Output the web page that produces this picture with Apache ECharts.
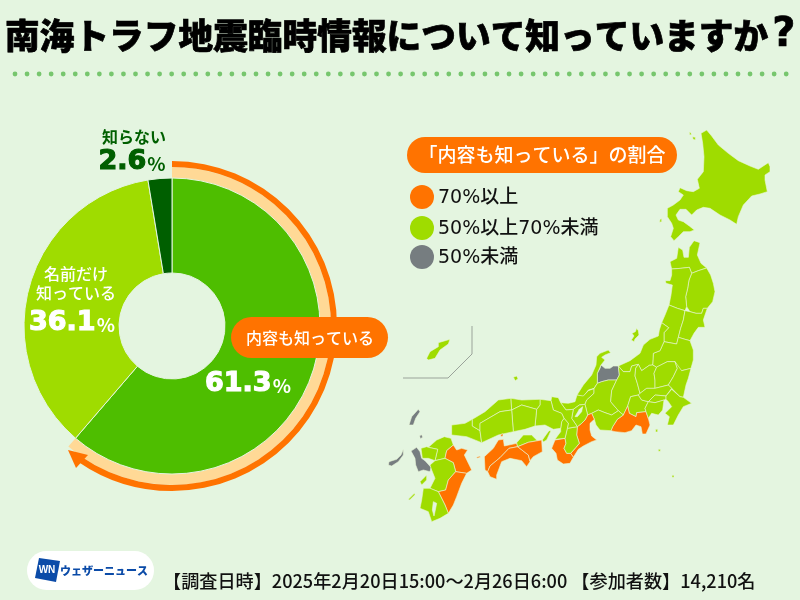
<!DOCTYPE html>
<html>
<head>
<meta charset="utf-8">
<style>html,body{margin:0;padding:0;background:#e4f5e0}#chart{width:800px;height:600px}</style>
<script src="https://cdn.jsdelivr.net/npm/echarts@6/dist/echarts.min.js"></script>
</head>
<body>
<div id="chart"></div>
<script>
var categories = ['内容も知っている', '名前だけ知っている', '知らない'];
var shares = [61.3, 36.1, 2.6];
var sliceColors = ['#4ebe00', '#9fdc00', '#005f00'];
var legendLabels = ['70%以上', '50%以上70%未満', '50%未満'];
var legendColors = ['#ff7300', '#9fdc00', '#767d80'];
var over70 = ['静岡', '三重', '和歌山', '徳島', '高知', '愛媛', '大分', '宮崎'];
var under50 = ['富山', '長崎'];
var waters = ['琵琶湖', '鹿児島湾'];
var footerText = '【調査日時】2025年2月20日15:00～2月26日6:00 【参加者数】14,210名';

var BG = '#e4f5e0';
var JP = '"Noto Sans CJK JP"';

// 地図の形は参照画像の切り抜きからなぞったもの (切り抜き左上 x0,y0 / 3倍)
function ring(x0, y0, p) {
    var out = [];
    for (var i = 0; i < p.length; i += 2) {
        out.push([x0 + p[i] / 3, y0 + p[i + 1] / 3]);
    }
    out.push(out[0]);
    return [out];
}
function A(p) { return ring(650, 120, p); }
function B(p) { return ring(590, 240, p); }
function C(p) { return ring(540, 360, p); }
function D(p) { return ring(385, 390, p); }
function E(p) { return ring(380, 120, p); }

var prefShapes = {
    '北海道': [A([170,30,185,48,205,75,235,100,265,122,300,138,325,148,355,128,360,140,360,155,345,165,345,180,352,215,330,222,305,228,280,255,265,290,260,313,240,300,210,285,180,265,160,262,140,270,125,285,108,268,90,268,78,285,85,300,100,305,118,318,133,330,120,335,100,335,85,350,72,362,62,350,70,325,65,310,52,290,52,265,70,255,90,240,100,225,85,215,90,203,110,212,130,215,148,205,142,178,160,155,162,110,158,70,153,40]),
        A([118,36,123,38,124,45,119,44]), A([128,50,136,52,136,60,129,58]), A([30,298,35,296,35,305,29,307])],
    '青森': [B([240,65,260,55,265,22,278,30,282,52,295,52,298,22,312,2,330,8,322,45,333,70,350,84,325,92,305,100,298,82,272,85,245,87])],
    '岩手': [B([350,84,362,105,370,130,375,155,368,185,352,205,340,205,335,220,318,220,300,215,290,200,287,170,293,145,297,120,305,100,325,92])],
    '秋田': [B([245,87,272,85,298,82,305,100,297,120,293,145,287,170,290,200,285,212,262,205,237,195,243,165,247,135,228,130,226,122,240,122,245,105])],
    '山形': [B([237,195,262,205,285,212,280,240,272,265,265,292,260,312,222,305,222,278,236,263,215,248,225,225])],
    '宮城': [B([285,212,300,215,318,220,335,220,340,205,352,205,345,225,340,240,345,262,325,262,312,280,300,302,285,298,265,292,272,265,280,240])],
    '福島': [B([222,305,260,312,265,292,285,298,300,302,310,330,310,360,303,385,275,392,262,385,255,365,232,365,200,382,188,375,190,340,210,332])],
    '新潟': [B([215,248,236,263,222,278,222,305,210,332,190,340,188,375,178,376,155,392,145,373,125,378,120,395,100,395,85,378,120,362,150,340,160,315,180,298,205,288,208,270]),
        B([140,265,145,272,147,285,135,297,132,305,124,300,132,288,126,280,136,275])],
    '富山': [B([33,375,45,385,60,385,70,378,85,378,88,405,80,420,55,420,35,425,22,430,22,400,30,385])],
    '石川': [B([20,350,30,340,55,330,62,338,45,345,35,352,45,360,33,375,22,400,22,430,12,445,-5,450,-20,470,-39,465,-20,435,5,405,18,375])],
    '福井': [C([111,105,130,108,145,92,162,86,162,100,140,120,135,133,118,135,100,148,78,150,62,128,85,130,105,125])],
    '岐阜': [C([162,86,172,70,185,65,205,60,230,60,215,92,212,125,235,152,215,165,195,158,175,150,155,160,143,165,135,133,140,120,162,100])],
    '長野': [C([230,60,238,45,235,18,250,35,270,35,275,18,295,13,287,25,285,48,292,70,300,100,295,105,272,110,263,138,250,165,235,152,212,125,215,92])],
    '山梨': [C([263,138,272,110,295,105,305,120,325,125,315,145,318,155,290,158,288,170,268,160])],
    '静岡': [C([263,138,268,160,288,170,290,158,318,155,325,175,330,195,318,222,307,222,303,200,288,195,275,212,255,218,225,215,213,212,218,200,232,178,250,165])],
    '愛知': [C([155,160,175,150,195,158,215,165,235,152,250,165,232,178,218,200,213,212,180,210,168,195,163,178])],
    '三重': [C([143,165,155,160,163,178,150,190,150,210,155,228,170,240,155,245,130,258,115,268,100,292,92,280,108,262,118,250,110,225,112,200,125,190,135,180])],
    '和歌山': [C([35,265,45,240,75,235,78,250,72,265,80,280,92,280,100,292,90,310,70,312,52,300,48,280])],
    '奈良': [C([75,235,82,205,112,200,110,225,118,250,108,262,92,280,80,280,72,265,78,250])],
    '滋賀': [C([100,148,118,135,135,133,143,165,135,180,125,190,112,200,95,175])],
    '京都': [C([33,122,35,110,55,113,62,128,78,150,100,148,95,175,112,200,82,205,85,190,72,175,65,160,40,150])],
    '大阪': [C([72,175,85,190,82,205,75,235,45,238,62,215,62,205,65,185])],
    '兵庫': [C([0,118,33,122,40,150,65,160,72,175,65,185,62,205,40,208,15,195,-15,198,-10,148,0,135]),
        D([472,150,492,122,498,122,485,150,475,156])],
    '群馬': [C([295,13,305,32,328,16,338,15,350,22,342,40,345,60,345,85,320,85,300,100,292,70,285,48,287,25])],
    '栃木': [C([350,21,382,5,405,5,412,25,400,50,385,75,345,85,345,60,342,40])],
    '茨城': [C([405,5,412,25,400,50,385,75,395,85,420,110,430,112,438,75,445,55,453,25,425,32])],
    '埼玉': [C([300,100,320,85,345,85,385,75,395,85,378,108,345,105,325,125,305,120,295,105])],
    '東京': [C([325,125,345,105,378,108,378,118,372,120,345,128]),
        C([347,208,353,208,353,216,347,216]), C([339,230,342,230,342,236,339,236]), C([355,268,361,268,361,274,355,274]), C([396,346,402,346,402,352,396,352])],
    '千葉': [C([378,108,395,88,420,110,430,112,455,130,430,140,415,165,400,195,382,195,388,170,375,160,395,140,385,125,378,118])],
    '神奈川': [C([315,145,325,125,345,128,372,120,368,150,355,165,335,160,325,175,318,155])],
    '山口': [D([200,105,240,100,262,88,262,108,285,122,290,158,245,140,200,135])],
    '島根': [D([262,88,300,65,340,30,378,25,380,60,345,65,285,100,285,122,262,108]),
        E([400,772,410,768,414,776,406,782])],
    '鳥取': [D([378,25,410,30,465,28,465,45,455,58,410,45,380,60])],
    '岡山': [D([380,60,410,45,455,58,450,108,420,118,385,125])],
    '広島': [D([285,122,285,100,345,65,380,60,385,125,340,135,290,158])],
    '愛媛': [D([298,200,325,175,340,150,355,148,358,168,395,160,398,170,372,175,345,203,315,228,308,245,300,240]),
        D([347,134,354,131,354,138,348,140]), D([275,202,285,198,286,202,276,205])],
    '高知': [D([315,228,345,203,372,175,398,170,430,195,435,215,425,230,410,212,375,205,350,215,335,255,335,268,315,260,308,245])],
    '香川': [D([395,158,415,135,440,135,457,152,430,157,398,170])],
    '徳島': [D([398,170,430,157,470,150,472,185,445,200,435,212,430,195])],
    '福岡': [D([130,172,155,150,178,140,198,145,205,165,185,182,180,205,150,212,158,178])],
    '佐賀': [D([108,175,125,170,130,172,158,178,150,212,130,205,112,205])],
    '長崎': [D([78,183,95,172,105,185,110,205,120,212,138,232,135,245,115,240,100,245,92,225,90,205]),
        D([72,105,80,80,100,58,105,65,92,85,85,105]), D([104,137,110,134,113,142,106,146]),
        D([10,225,12,215,35,208,48,195,55,178,55,195,40,215,20,228])],
    '大分': [D([185,182,205,165,215,180,230,175,248,180,238,195,260,240,245,250,212,245,205,218,180,205])],
    '熊本': [D([150,212,180,205,205,218,212,245,190,270,182,300,160,305,135,295,150,265,140,240,135,225]),
        D([105,275,125,255,125,270,110,285])],
    '宮崎': [D([212,245,245,250,230,280,215,320,205,345,190,370,180,345,160,305,182,300,190,270])],
    '鹿児島': [D([115,295,135,295,160,305,180,345,190,370,165,385,140,395,130,365,105,355,110,330]),
        D([70,328,88,310,90,314,74,330])],
    '沖縄': [E([140,715,150,695,175,680,175,668,210,658,205,672,180,690,165,715,145,720])],
    '琵琶湖': [C([105,170,118,148,128,140,125,155,112,170])],
    '鹿児島湾': [D([145,335,155,340,150,365,147,378,142,360])]
};

var features = [];
var mapData = [];
Object.keys(prefShapes).forEach(function (name) {
    features.push({
        type: 'Feature',
        properties: { name: name },
        geometry: { type: 'MultiPolygon', coordinates: prefShapes[name] }
    });
    var color = legendColors[1];
    if (over70.indexOf(name) >= 0) color = legendColors[0];
    if (under50.indexOf(name) >= 0) color = legendColors[2];
    if (waters.indexOf(name) >= 0) color = BG;
    mapData.push({ name: name, value: 1, itemStyle: { areaColor: color } });
});
echarts.registerMap('japan', { type: 'FeatureCollection', features: features });

function txt(x, y, text, size, color, weight, align, family) {
    return {
        type: 'text', x: x, y: y, z: 100, silent: true,
        style: {
            text: text, fill: color, fontSize: size, fontWeight: weight || 700,
            fontFamily: family || JP, align: align || 'center', verticalAlign: 'middle'
        }
    };
}
// 数字は太く、% は小さめ
function pct(x, y, value, color) {
    return {
        type: 'text', x: x, y: y, z: 100, silent: true,
        style: {
            text: '{n|' + value.toFixed(1) + '}{p|%}',
            align: 'center', verticalAlign: 'middle',
            rich: {
                n: { fontSize: 27, fontWeight: 700, fontFamily: '"DejaVu Sans"', fill: color, stroke: color, lineWidth: 1.2 },
                p: { fontSize: 19, fontWeight: 700, fontFamily: JP, fill: color, padding: [3, 0, 0, 1] }
            }
        }
    };
}

var graphics = [];
for (var i = 0; i < 65; i++) {
    graphics.push({ type: 'circle', silent: true, shape: { cx: 15 + i * 12.05, cy: 74, r: 2.4 }, style: { fill: '#77c66e' } });
}
graphics.push({
    type: 'text', x: 5, y: 36, z: 100, silent: true,
    style: {
        text: '{t|南海トラフ地震臨時情報について知っていますか}{q|?}',
        align: 'left', verticalAlign: 'middle',
        rich: {
            t: { fontSize: 34.7, fontWeight: 900, fontFamily: JP, fill: '#000', stroke: '#000', lineWidth: 0.7 },
            q: { fontSize: 40, fontWeight: 700, fontFamily: '"DejaVu Sans"', fill: '#000', stroke: '#000', lineWidth: 0.7, padding: [0, 0, 0, 4] }
        }
    }
});

// 矢印の先
graphics.push({ type: 'polygon', z: 50, silent: true, shape: { points: [[68, 450], [88, 455], [76, 468]] }, style: { fill: '#ff7300' } });

graphics.push({ type: 'rect', z: 90, silent: true, shape: { x: 231, y: 317, width: 157, height: 41, r: 20.5 }, style: { fill: '#ff7300' } });
graphics.push(txt(310, 338, categories[0], 16, '#fff', 500));
graphics.push(pct(248, 384, shares[0], '#fff'));
graphics.push(txt(76, 274, '名前だけ', 16, '#fff', 500));
graphics.push(txt(76, 293, '知っている', 16, '#fff', 500));
graphics.push(pct(72, 323, shares[1], '#fff'));
graphics.push(txt(134, 137, categories[2], 16, '#005f00', 700));
graphics.push(pct(132, 162, shares[2], '#005f00'));

// 凡例
graphics.push({ type: 'rect', z: 90, silent: true, shape: { x: 407, y: 137, width: 270, height: 36, r: 18 }, style: { fill: '#ff7300' } });
graphics.push(txt(542, 155, '「内容も知っている」の割合', 19, '#fff', 500));
var legendY = [197, 228, 257];
legendLabels.forEach(function (label, k) {
    graphics.push({ type: 'circle', silent: true, shape: { cx: 422, cy: legendY[k], r: 12 }, style: { fill: legendColors[k] } });
    graphics.push(txt(438, legendY[k] + 1, label, 19, '#111', 500, 'left', '"DejaVu Sans", ' + JP));
});

// 沖縄の枠線
graphics.push({ type: 'polyline', silent: true, shape: { points: [[472, 326], [472, 354], [448, 378], [403, 378]] }, style: { stroke: '#9aa39a', lineWidth: 1, fill: null } });

// ロゴ
graphics.push({ type: 'rect', silent: true, shape: { x: 27, y: 551, width: 127, height: 39, r: 19.5 }, style: { fill: '#fff' } });
graphics.push({ type: 'polygon', silent: true, shape: { points: [[39, 558], [60, 561], [56, 582], [35, 578]] }, style: { fill: '#0b4ba8' } });
graphics.push(txt(47, 570, 'WN', 10, '#fff', 700, 'center', '"Liberation Sans"'));
graphics.push(txt(104, 571, 'ウェザーニュース', 11, '#0b4ba8', 900));

graphics.push(txt(163, 581, footerText, 18.15, '#111', 500, 'left'));

var chart = echarts.init(document.getElementById('chart'));
chart.setOption({
    backgroundColor: BG,
    animation: false,
    series: [
        {
            type: 'pie', silent: true, startAngle: 90, center: [172, 326], radius: [147, 159],
            label: { show: false }, labelLine: { show: false },
            data: [
                { value: shares[0], itemStyle: { color: '#ffd996' } },
                { value: 100 - shares[0], itemStyle: { color: 'transparent' } }
            ]
        },
        {
            type: 'pie', silent: true, startAngle: 90, center: [172, 326], radius: [159, 165],
            label: { show: false }, labelLine: { show: false },
            data: [
                { value: 59.6, itemStyle: { color: '#ff7300' } },
                { value: 40.4, itemStyle: { color: 'transparent' } }
            ]
        },
        {
            type: 'pie', silent: true, startAngle: 90, center: [172, 326], radius: [53, 148],
            label: { show: false }, labelLine: { show: false },
            itemStyle: { borderColor: BG, borderWidth: 1 },
            data: categories.map(function (name, i) {
                return { name: name, value: shares[i], itemStyle: { color: sliceColors[i] } };
            })
        },
        {
            type: 'map', map: 'japan', silent: true, selectedMode: false,
            projection: {
                project: function (p) { return [p[0], p[1]]; },
                unproject: function (p) { return [p[0], p[1]]; }
            },
            boundingCoords: [[0, 0], [800, 600]],
            left: 0, top: 0, width: 800, height: 600,
            label: { show: false },
            emphasis: { disabled: true },
            itemStyle: { borderColor: '#eaf7d8', borderWidth: 0.6 },
            data: mapData
        }
    ],
    graphic: graphics
});
</script>
</body>
</html>
